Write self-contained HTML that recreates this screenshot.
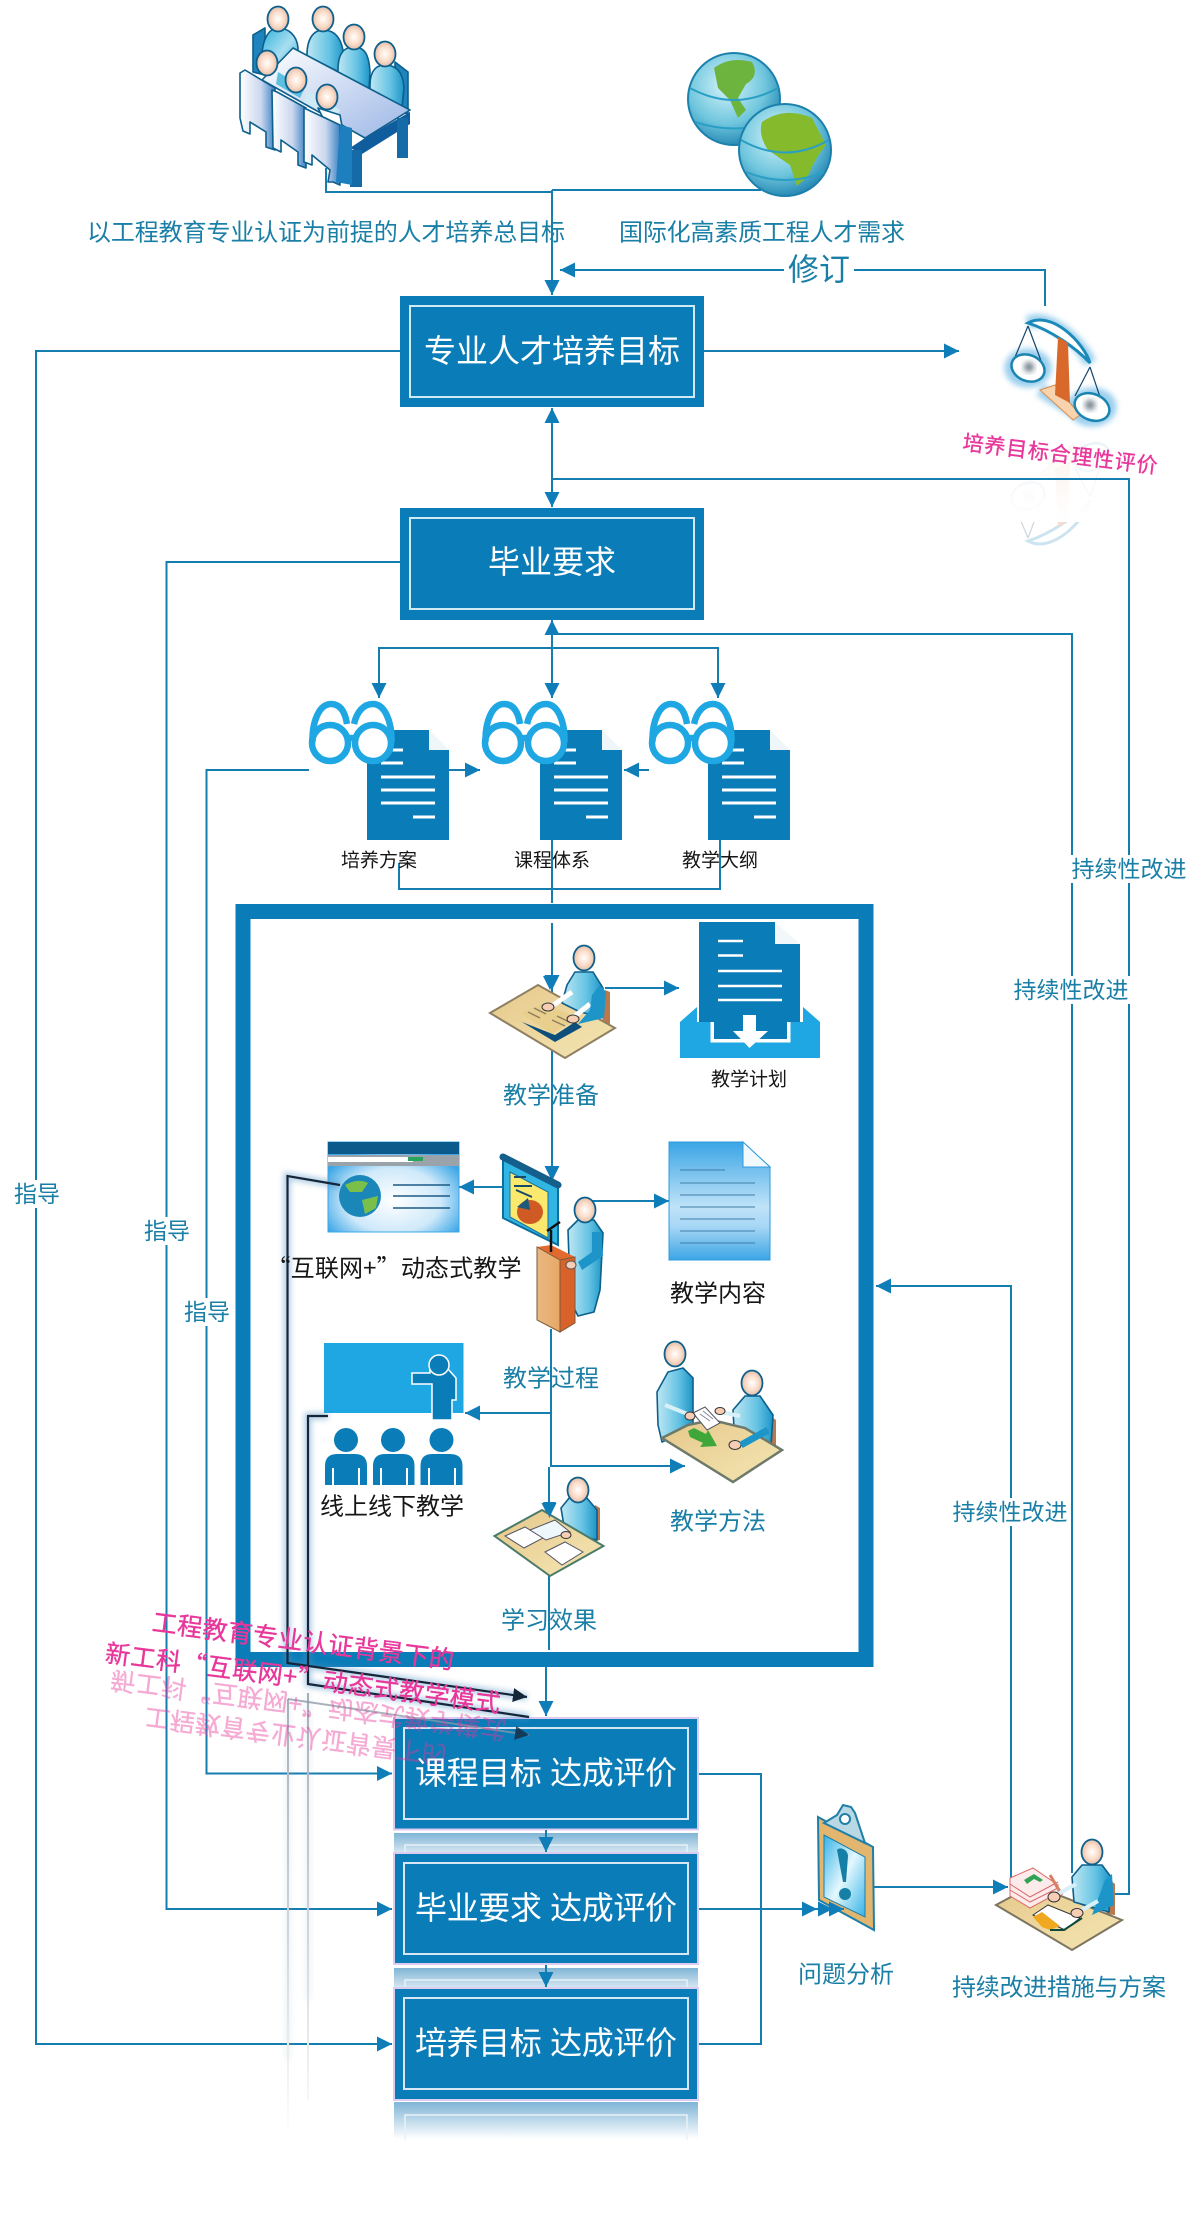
<!DOCTYPE html>
<html lang="zh"><head><meta charset="utf-8"><title>工程教育专业认证</title>
<style>
html,body{margin:0;padding:0;background:#fff}
svg{display:block}
text{font-family:"Liberation Sans","Noto Sans CJK SC",sans-serif;dominant-baseline:central;text-anchor:middle}
.q{font-family:"Noto Sans CJK SC",sans-serif}
.t{fill:#1a7fa6;font-size:24px}
.k{fill:#161616;font-size:24px}
.s{fill:#161616;font-size:19px}
.w{fill:#fff;font-size:32px}
.p{fill:#e8379b;stroke:#e8379b;stroke-width:.35px}
.l{fill:none;stroke:#147eb0;stroke-width:2}
.a{fill:none;stroke:#147eb0;stroke-width:2;marker-end:url(#ar)}
.o{stroke:#0d5f8c;stroke-width:1.6;stroke-linejoin:round}
</style></head><body>
<svg xmlns="http://www.w3.org/2000/svg" width="1202" height="2235" viewBox="0 0 1202 2235">
<defs>
<marker id="ar" markerUnits="userSpaceOnUse" markerWidth="15" markerHeight="15" viewBox="0 0 14 14" refX="14" refY="7" orient="auto"><path d="M0 0L14 7L0 14Z" fill="#0e7db8"/></marker>
<marker id="bk" markerUnits="userSpaceOnUse" markerWidth="14" markerHeight="14" viewBox="0 0 14 14" refX="14" refY="7" orient="auto"><path d="M0 0L14 7L0 14Z" fill="#15263a"/></marker>
<radialGradient id="hd" cx=".5" cy=".5" r=".55"><stop offset="0" stop-color="#fff"/><stop offset=".55" stop-color="#fbdcc8"/><stop offset="1" stop-color="#d9b7a2"/></radialGradient>
<linearGradient id="bd" x1="0" y1="0" x2="1" y2="1"><stop offset="0" stop-color="#2fb0dc"/><stop offset=".55" stop-color="#a9dff0"/><stop offset="1" stop-color="#2d9fd0"/></linearGradient>
<linearGradient id="bd2" x1="0" y1="0" x2="1" y2="0"><stop offset="0" stop-color="#bfe7f3"/><stop offset=".6" stop-color="#65c3e3"/><stop offset="1" stop-color="#1d95c8"/></linearGradient>
<linearGradient id="ch" x1="0" y1="0" x2="1" y2="0"><stop offset="0" stop-color="#fff"/><stop offset=".6" stop-color="#cbd7ee"/><stop offset="1" stop-color="#3c82c4"/></linearGradient>
<linearGradient id="tb" x1="0" y1="0" x2="1" y2="1"><stop offset="0" stop-color="#fff"/><stop offset="1" stop-color="#9bb6e6"/></linearGradient>
<linearGradient id="dk" x1="0" y1="0" x2="1" y2="1"><stop offset="0" stop-color="#e6c88a"/><stop offset="1" stop-color="#f4e6b4"/></linearGradient>
<linearGradient id="pod" x1="0" y1="0" x2="1" y2="0"><stop offset="0" stop-color="#e9b883"/><stop offset="1" stop-color="#e8a866"/></linearGradient>
<linearGradient id="docg" x1="0" y1="0" x2="0" y2="1"><stop offset="0" stop-color="#3ba5e6"/><stop offset=".55" stop-color="#bfe3f8"/><stop offset=".72" stop-color="#a6d6f5"/><stop offset="1" stop-color="#3ba5e6"/></linearGradient>
<radialGradient id="web" cx=".5" cy=".65" r=".6"><stop offset="0" stop-color="#fff"/><stop offset=".6" stop-color="#cfe9fa"/><stop offset="1" stop-color="#3aa6e6"/></radialGradient>
<radialGradient id="gl" cx=".42" cy=".35" r=".7"><stop offset="0" stop-color="#d6f4fb"/><stop offset=".6" stop-color="#6fc6dd"/><stop offset="1" stop-color="#1b7fae"/></radialGradient>
<linearGradient id="pap" x1="0" y1="0" x2="1" y2="1"><stop offset="0" stop-color="#35b2e6"/><stop offset=".5" stop-color="#e4f8fe"/><stop offset="1" stop-color="#35b2e6"/></linearGradient>
<linearGradient id="rf" x1="0" y1="0" x2="0" y2="1"><stop offset="0" stop-color="#7fb5d6"/><stop offset="1" stop-color="#d4e5f0"/></linearGradient>
<linearGradient id="rf2" x1="0" y1="0" x2="0" y2="1"><stop offset="0" stop-color="#7fb5d6"/><stop offset="1" stop-color="#fff"/></linearGradient>
<linearGradient id="fadeL" gradientUnits="userSpaceOnUse" x1="0" y1="1690" x2="0" y2="2140"><stop offset="0" stop-color="#a4aeb8"/><stop offset=".55" stop-color="#d0d6dc"/><stop offset="1" stop-color="#fff"/></linearGradient>
<linearGradient id="fadeW" x1="0" y1="0" x2="0" y2="1"><stop offset="0" stop-color="#fff" stop-opacity=".55"/><stop offset="1" stop-color="#fff"/></linearGradient>
<filter id="bl" x="-30%" y="-30%" width="160%" height="160%"><feGaussianBlur stdDeviation="3"/></filter>
<ellipse id="h" rx="10.500" ry="12.500" fill="url(#hd)" stroke="#0d5f8c" stroke-width="1.800"/>
<g id="doc">
<path d="M0 0H62V20H82V110H0Z" fill="#0a7cb8"/><path d="M62 0L82 20H62Z" fill="#eef6fa"/>
<path d="M14 20H36M14 33H36M14 47H68M14 60H68M14 73H68M46 87H68" stroke="#fff" stroke-width="3"/>
</g>
<g id="glass" fill="none" stroke="#1ea7e2" stroke-width="6.500">
<circle cx="21" cy="43" r="18" fill="#fff"/><circle cx="64" cy="43" r="18" fill="#fff"/>
<path d="M38 40Q42.500 36 47 40"/>
<path d="M3.500 42C3 22 10 4 22 4C31 4 36 11 38 24"/>
<path d="M45 24C48 11 55 4 64 4C76 4 83 22 82.500 42"/>
</g>
<g id="scale">
<path d="M1028 323C1052 310 1084 343 1090 363C1075 347 1050 330 1028 323Z" fill="#fff" stroke="#1b8ab8" stroke-width="3"/>
<path d="M1040 390L1055 385L1080 415L1073 420Z" fill="#f8d3ad" stroke="#d98c4c"/>
<path d="M1058 337L1068 343L1070 403L1055 395Z" fill="#d9692b"/>
<path d="M1028 326L1013 362M1028 326L1043 366M1090 367L1075 396M1090 367L1105 412" stroke="#17466a" stroke-width="1.200"/>
<ellipse cx="1028" cy="368" rx="17" ry="13" transform="rotate(22 1028 368)" fill="#fff" stroke="#1b85b0" stroke-width="2.500"/>
<ellipse cx="1092" cy="407" rx="18" ry="13" transform="rotate(22 1092 407)" fill="#fff" stroke="#1b85b0" stroke-width="2.500"/>
<circle cx="1029" cy="367" r="5" fill="#6a7a86" filter="url(#bl)"/><circle cx="1090" cy="405" r="5" fill="#6a7a86" filter="url(#bl)"/>
</g>
</defs>

<!-- top left meeting -->
<g>
<path d="M253 35L265 28V75L253 72Z" fill="#1f84bd" class="o"/>
<path d="M395 62L408 72V115L395 105Z" fill="#1f84bd" class="o"/>
<path d="M262 62C261 38 270 28 278 28C288 28 297 35 298 48L296 72L280 70Z" fill="url(#bd)" class="o"/>
<path d="M307 55C307 38 314 30 323 30C333 30 343 36 344 60L343 74L307 56Z" fill="url(#bd2)" class="o"/>
<path d="M338 70C338 52 345 47 354 47C365 47 369 55 370 72L369 90L338 72Z" fill="url(#bd2)" class="o"/>
<path d="M370 85C370 70 377 65 385 65C396 65 403 72 404 88L402 108L370 90Z" fill="url(#bd2)" class="o"/>
<use href="#h" x="278" y="19"/><use href="#h" x="323" y="19"/><use href="#h" x="354" y="37"/><use href="#h" x="385" y="54"/>
<path d="M293 48L410 110L365 138L262 80Z" fill="url(#tb)" class="o"/>
<path d="M350 148L365 138L410 112V124L362 154Z" fill="#0f5d9c"/>
<rect x="397" y="118" width="11" height="40" fill="#156aa8"/><rect x="350" y="150" width="12" height="37" fill="#156aa8"/>
<use href="#h" x="267" y="63"/><path d="M278 72L305 88L300 98L276 84Z" fill="#5ec0e0"/>
<use href="#h" x="296" y="80"/><path d="M308 90L340 110L335 118L303 102Z" fill="#cfeaf5"/>
<use href="#h" x="327" y="97"/><path d="M318 108L340 115L343 132L325 122Z" fill="#fff" class="o"/>
<path d="M240 73L245 70L275 88V150L266 147V132L250 122V134L243 131L240 118Z" fill="url(#ch)" class="o"/>
<path d="M272 90L277 92L306 108V168L298 165V152L281 140V152L273 148Z" fill="url(#ch)" class="o"/>
<path d="M304 108L340 125V185L333 182L328 182L330 170L312 155V165L304 162Z" fill="url(#ch)" class="o"/>
<path d="M340 125L352 128V185L336 182Z" fill="#1e7fbe"/>
</g>
<!-- globes -->
<g stroke="#1c80ac" stroke-width="2">
<circle cx="734" cy="99" r="46" fill="url(#gl)"/>
<path d="M714 68Q730 56 752 62Q760 76 746 84L738 98L746 110L738 118L730 100L718 88Z" fill="#6db43e" stroke="none"/>
<path d="M690 88Q734 112 778 88M695 122Q734 135 773 122" fill="none" stroke="#2a9fc6"/>
<circle cx="785" cy="150" r="46" fill="url(#gl)"/>
<path d="M762 122Q785 106 812 118L826 145Q815 158 808 176L797 186L790 165L768 150Q758 135 762 122Z" fill="#85ba2c" stroke="none"/>
<path d="M741 140Q785 165 829 140M746 172Q785 188 824 172" fill="none" stroke="#2a9fc6"/>
</g>
<!-- scale icon and reflection -->
<g fill="none" stroke="#6fbbe6" stroke-width="13" opacity=".7" filter="url(#bl)">
<path d="M1028 323C1050 312 1082 345 1090 363"/>
<ellipse cx="1028" cy="368" rx="17" ry="13"/><ellipse cx="1092" cy="407" rx="18" ry="13"/>
<path d="M1040 390L1080 415"/>
</g>
<use href="#scale"/>
<g transform="translate(0 864) scale(1 -1)" opacity=".22"><use href="#scale"/></g>
<rect x="1000" y="437" width="130" height="85" fill="url(#fadeW)"/>

<!-- frame -->
<rect x="243" y="911.500" width="623" height="748" fill="none" stroke="#0a7cb8" stroke-width="15"/>

<!-- docs -->
<use href="#doc" x="367" y="730"/><use href="#doc" x="540" y="730"/><use href="#doc" x="708" y="730"/>
<use href="#glass" x="309" y="700"/><use href="#glass" x="482" y="700"/><use href="#glass" x="649" y="700"/>

<!-- connectors -->
<g>
<path class="l" d="M326 168V192H552M761 190H552"/>
<path class="a" d="M552 190V295"/>
<path class="a" d="M1045 306V270H560"/>
<path class="a" d="M704 351H959"/>
<path class="l" d="M552 408V507M552 479H1129V1894H1113"/>
<path class="a" d="M552 440V408"/><path class="a" d="M552 470V507"/>
<path class="l" d="M552 634H1072V1873"/><path class="a" d="M552 660V620"/>
<path class="a" d="M552 648V698"/><path class="a" d="M379 698V648H718V698"/>
<path class="a" d="M379 660V698"/>
<path class="a" d="M400 351H36V2044H392"/>
<path class="a" d="M400 562H166.500V1909H392"/>
<path class="a" d="M309 770H206.500V1773.500H392"/>
<path class="a" d="M449 770H480"/><path class="a" d="M649 770H624"/>
<path class="l" d="M399 863V889H720V840M552 840V903"/>
<path class="a" d="M552 923V990"/><path class="a" d="M552 990V1181"/>
<path class="a" d="M605 988H679"/><path class="a" d="M503 1187H459"/>
<path class="a" d="M591 1201H669"/>
<path class="l" d="M551 1329V1467"/>
<path class="a" d="M550 1413H465"/><path class="a" d="M551 1466H685"/>
<path class="a" d="M549 1467V1518"/><path class="l" d="M549 1518V1650"/>
<path class="a" d="M546 1667V1716"/>
<path class="l" d="M698 1774H761V2044H698"/>
<path class="l" d="M698 1909H817"/>
<path class="a" d="M874 1887H1008"/>
<path class="a" d="M1011 1882V1286H876"/>
</g>

<!-- plan -->
<path d="M680 1022L697 1007V1022H803V1007L820 1022V1058H680Z" fill="#1ea7e2"/>
<path d="M712 1020V1041H789V1020" fill="#fff" stroke="#fff" stroke-width="3"/>
<path d="M699 922H775V944H800V1022H787V1039H714V1022H699Z" fill="#0a7cb8"/>
<path d="M775 922L800 944H775Z" fill="#f2f7fa"/>
<path d="M718 941H743M718 955.500H743M718 971H782M718 986H782M718 1000H782" stroke="#fff" stroke-width="2.500"/>
<path d="M743 1015H756V1031H768L749.500 1048L733 1031H743Z" fill="#fff"/>

<!-- desk teacher -->
<path d="M605 990L610 992V1026L602 1026Z" fill="#b9784d"/>
<path d="M490 1013L538 985L615 1028L565 1058Z" fill="url(#dk)" stroke="#8f7f62" stroke-width="2"/>
<path d="M512 1016L522 1022L555 1035L575 1022L582 1027L555 1042Z" fill="#0b4f7a"/>
<path d="M520 1013L545 1003L578 1018L552 1034Z" fill="#e8cf8e"/>
<path d="M528 1012L540 1018M534 1008L546 1014M552 1020L565 1026M557 1016L569 1022" stroke="#8f7f62" stroke-width="1.500"/>
<path d="M567 985L575 972H593L603 988L602 1017L580 1012L562 1003Z" fill="url(#bd2)" class="o"/>
<path d="M572 992L552 1006M590 1004L575 1016" stroke="#fff" stroke-width="5"/>
<path d="M592 995L600 985L606 992L604 1018L578 1024L590 1010Z" fill="#1d95c8"/>
<use href="#h" x="584" y="958"/>
<ellipse cx="548" cy="1007" rx="6" ry="4" fill="#f7cdb5" stroke="#333"/><ellipse cx="573" cy="1019" rx="6" ry="4" fill="#f7cdb5" stroke="#333"/>
<path d="M543 976H557L550 990Z" fill="#0e7db8"/>

<!-- web window -->
<rect x="328" y="1142" width="131" height="90" fill="url(#web)" stroke="#3aa6e6"/>
<rect x="328" y="1142" width="131" height="12" fill="#0c5a8c"/>
<rect x="328" y="1155" width="131" height="11" fill="#9aa3aa"/>
<rect x="328" y="1157" width="85" height="5" fill="#fff"/><rect x="408" y="1157" width="15" height="4" fill="#27a55c"/>
<circle cx="360" cy="1196" r="21" fill="#1b87b8"/><path d="M345 1185Q358 1178 368 1183L362 1192L350 1192ZM362 1200L378 1196L376 1208L365 1214Z" fill="#7abf4a"/>
<path d="M393 1185H450M393 1196H450M393 1208H450" stroke="#1c5a86" stroke-width="1.500"/>

<!-- podium -->
<path d="M503 1155L558 1183V1245L503 1218Z" fill="#31b5e2" stroke="#0d6f9f" stroke-width="2"/>
<path d="M510 1172L548 1192V1238L510 1217Z" fill="#fbe96e" stroke="#1b6f9a"/>
<path d="M503 1157L558 1185" stroke="#145f8c" stroke-width="7" stroke-linecap="round"/>
<ellipse cx="530" cy="1212" rx="13" ry="12" fill="#cf5a23"/><path d="M517 1207L528 1198L530 1210Z" fill="#1c5a7c"/>
<path d="M514 1177H526M514 1186H532M516 1190L532 1197" stroke="#184a66" stroke-width="2"/>
<path d="M568 1230L578 1220H594L603 1233L600 1290L594 1312L578 1316L574 1308V1275L569 1260Z" fill="url(#bd2)" class="o"/>
<path d="M592 1232L601 1232L603 1256L582 1270L578 1262L592 1252Z" fill="#1d95c8"/>
<use href="#h" x="585" y="1210"/>
<path d="M537 1247L551 1245L575 1257L560 1260Z" fill="#e26a2e"/>
<path d="M537 1247L560 1260V1332L537 1320Z" fill="url(#pod)" stroke="#7a5a3a"/>
<path d="M560 1260L575 1257V1323L560 1332Z" fill="#d9622b" stroke="#7a5a3a"/>
<path d="M551 1252V1230M547 1231L560 1222" stroke="#111" stroke-width="2.500"/>
<ellipse cx="571" cy="1265" rx="5" ry="4" fill="#f7cdb5" stroke="#555"/>

<!-- content doc -->
<path d="M669 1142H743L770 1167V1260H669Z" fill="url(#docg)" stroke="#2f9bdc"/>
<path d="M743 1142L770 1167H743Z" fill="#f2f9fd" stroke="#2f9bdc"/>
<path d="M680 1170H725M680 1183H755M680 1195H755M680 1207H755M680 1219H755M680 1231H755M680 1243H755" stroke="#3f7ea9" stroke-width="1"/>

<!-- online teaching -->
<rect x="324" y="1343" width="139.500" height="70" fill="#1ea7e2"/>
<path d="M412 1373H430V1369H448L456 1378V1400H452V1420H432V1384H412Z" fill="#0a7cb8" stroke="#fff" stroke-width="1.500"/>
<circle cx="439" cy="1365" r="10" fill="#0a7cb8" stroke="#fff" stroke-width="1.500"/>
<g fill="#0a7cb8">
<ellipse cx="346" cy="1440" rx="12" ry="12"/><ellipse cx="393" cy="1440" rx="12" ry="12"/><ellipse cx="441.500" cy="1440" rx="12" ry="12"/>
<path d="M325 1485V1466Q325 1454 337 1454H355Q367 1454 367 1466V1485H360V1468H358V1485H334V1468H332V1485Z"/>
<path d="M373 1485V1466Q373 1454 385 1454H403Q414.500 1454 414.500 1466V1485H408V1468H406V1485H382V1468H380V1485Z"/>
<path d="M420.500 1485V1466Q420.500 1454 432 1454H450Q462.500 1454 462.500 1466V1485H456V1468H454V1485H430V1468H428V1485Z"/>
</g>

<!-- pair -->
<path d="M769 1415L776 1420V1445L766 1447Z" fill="#b9784d"/>
<path d="M657 1392L668 1372L683 1368L693 1378L693 1428L662 1442L658 1425Z" fill="url(#bd2)" class="o"/>
<use href="#h" x="675" y="1354"/>
<path d="M733 1410L745 1396H760L773 1415L771 1446L735 1446Z" fill="url(#bd2)" class="o"/>
<use href="#h" x="752" y="1383"/>
<path d="M662 1438L688 1425L712 1420L745 1428L782 1450L733 1482Z" fill="url(#dk)" stroke="#6d7a6a" stroke-width="2.500"/>
<path d="M693 1413L705 1407L720 1423L707 1430Z" fill="#fff" stroke="#556"/>
<path d="M700 1414L710 1421M703 1411L713 1419" stroke="#889" stroke-width="1"/>
<path d="M688 1431L694 1428L706 1434L708 1430L717 1446L700 1447L703 1443L690 1437Z" fill="#3fa63a"/>
<path d="M665 1405L690 1415" stroke="#d8f0f8" stroke-width="4"/><path d="M720 1412L740 1416" stroke="#d8f0f8" stroke-width="4"/>
<ellipse cx="690" cy="1416" rx="5" ry="4" fill="#f7cdb5" stroke="#333"/><ellipse cx="720" cy="1411" rx="5" ry="3.500" fill="#f7cdb5" stroke="#333"/>
<ellipse cx="735" cy="1445" rx="6" ry="4.500" fill="#f7cdb5" stroke="#333"/><path d="M741 1445L768 1430" stroke="#1d95c8" stroke-width="7"/>

<!-- learning -->
<path d="M595 1505L600 1508V1540L592 1542Z" fill="#b9784d"/>
<path d="M561 1508L570 1497H586L597 1510V1540L565 1532Z" fill="url(#bd2)" class="o"/>
<use href="#h" x="578" y="1490"/>
<path d="M494.500 1536L542 1510L603.500 1546L550 1576Z" fill="url(#dk)" stroke="#4a7a6a" stroke-width="2"/>
<path d="M505 1536L525 1527L543 1538L524 1548Z" fill="#fff" stroke="#556"/>
<path d="M530 1530L555 1520L570 1532L546 1540Z" fill="#eef7fb" stroke="#556"/>
<path d="M545 1552L565 1542L583 1552L562 1565Z" fill="#fff" stroke="#556"/>
<ellipse cx="566" cy="1535" rx="5" ry="3.500" fill="#f7cdb5" stroke="#333"/>
<path d="M543 1502H556L549.500 1518Z" fill="#0e7db8"/>

<!-- clipboard -->
<path d="M818 1817L873 1847L874 1930L819 1900Z" fill="#e3b670" stroke="#1f7fa6" stroke-width="2"/>
<path d="M824 1835L865 1857V1917L824 1897Z" fill="url(#pap)" stroke="#1f7fa6"/>
<path d="M824 1823L837 1815L843 1805L851 1807L855 1813L865 1843Z" fill="#b8d8e6" stroke="#1f7fa6" stroke-width="2"/>
<circle cx="845" cy="1819" r="5" fill="#fff" stroke="#1f7fa6" stroke-width="2"/>
<path d="M837 1850C840 1846 848 1850 848 1856L846 1882H843Z" fill="#167fa6"/>
<ellipse cx="845" cy="1894" rx="6" ry="6" fill="#167fa6"/>
<path class="a" d="M800 1909H817"/><path class="a" d="M815 1909H833"/><path class="a" d="M828 1909H844"/>

<!-- final person -->
<path d="M1110 1880L1115 1884V1915L1106 1914Z" fill="#b9784d"/>
<path d="M996 1905L1033 1885L1122 1920L1072 1950Z" fill="url(#dk)" stroke="#7e7560" stroke-width="2"/>
<path d="M1072 1877L1082 1865H1102L1111 1877L1109 1912L1074 1902Z" fill="url(#bd2)" class="o"/>
<path d="M1105 1880L1112 1874L1114 1905L1092 1915Z" fill="#1d95c8"/>
<use href="#h" x="1092" y="1852"/>
<path d="M1010 1878L1033 1868L1058 1885V1893L1030 1908L1010 1896Z" fill="#fdeaea" stroke="#d96a6a"/>
<path d="M1010 1884L1030 1897L1058 1882M1010 1890L1030 1902L1058 1888" fill="none" stroke="#d96a6a"/>
<path d="M1024 1880L1034 1874L1043 1880L1040 1882L1034 1879L1027 1884Z" fill="#2fa454"/>
<path d="M1033 1915L1048 1905L1080 1918L1065 1930Z" fill="#fff" stroke="#333"/>
<path d="M1033 1917L1042 1912L1060 1926L1050 1930L1042 1927Z" fill="#f0a820"/>
<path d="M1050 1930L1064 1930L1082 1918" fill="none" stroke="#0c4a3a" stroke-width="2"/>
<path d="M1050 1875L1062 1895" stroke="#d98060" stroke-width="3"/>
<path d="M1058 1894L1076 1884M1080 1911L1098 1901" stroke="#d8f0f8" stroke-width="4"/>
<ellipse cx="1054" cy="1897" rx="6" ry="5" fill="#f7cdb5" stroke="#333"/><ellipse cx="1077" cy="1913" rx="6" ry="4.500" fill="#f7cdb5" stroke="#333"/>

<!-- reflections of eval boxes -->
<rect x="394" y="1833" width="304" height="19" fill="url(#rf)"/>
<rect x="405" y="1845" width="282" height="8" fill="none" stroke="#e8f2f7" stroke-width="1.500"/>
<rect x="394" y="1968" width="304" height="19" fill="url(#rf)"/>
<rect x="405" y="1980" width="282" height="8" fill="none" stroke="#e8f2f7" stroke-width="1.500"/>
<rect x="394" y="2102" width="304" height="37" fill="url(#rf2)"/>
<path d="M405 2140V2115H687V2140" fill="none" stroke="#e8f2f7" stroke-width="1.500"/>

<!-- main boxes -->
<rect x="400" y="296" width="304" height="111" fill="#0a7cb8"/><rect x="410" y="306" width="284" height="91" fill="none" stroke="#cfeaf5" stroke-width="2"/>
<rect x="400" y="508" width="304" height="112" fill="#0a7cb8"/><rect x="410" y="518" width="284" height="91" fill="none" stroke="#cfeaf5" stroke-width="2"/>
<g fill="#0a7cb8" stroke="#dccdf0" stroke-width="2">
<rect x="394" y="1718" width="304" height="111.500"/><rect x="394" y="1853" width="304" height="111"/><rect x="394" y="1988" width="304" height="112"/>
</g>
<g fill="none" stroke="#d6e6f4" stroke-width="2">
<rect x="404" y="1728" width="284" height="91"/><rect x="404" y="1863" width="284" height="91"/><rect x="404" y="1998" width="284" height="91"/>
</g>
<path class="a" d="M546 1830V1852"/><path class="a" d="M546 1965V1987"/>

<!-- black lines -->
<g fill="none" stroke="#4f93c4" stroke-width="7" opacity=".45" filter="url(#bl)">
<path d="M340 1185L287 1176V1663L527 1697"/><path d="M328 1416H308V1684L529 1717"/>
</g>
<g fill="none" stroke="#9fb4c8" stroke-width="5" opacity=".18" filter="url(#bl)"><path d="M288 1699V2060"/><path d="M308 1693V2000"/></g>
<g fill="none" stroke="url(#fadeL)" stroke-width="2"><path d="M288 1699V2140"/><path d="M308 1693V2100"/></g>
<g fill="none" stroke="#15263a" stroke-width="2.200">
<path d="M340 1185L287.500 1176V1663L527 1697" marker-end="url(#bk)"/>
<path d="M328 1416H308V1684L529 1717"/>
</g>
<path d="M288 1699L529 1735" fill="none" stroke="#8b97a6" stroke-width="2" marker-end="url(#bk)" opacity=".75"/>

<!-- pink text -->
<text class="p" font-size="25" transform="translate(303 1642) rotate(7.300)" textLength="304">工程教育专业认证背景下的</text>
<text class="p q" font-size="25" transform="translate(303 1677) rotate(7.300)" textLength="398">新工科“互联网+”动态式教学模式</text>
<g opacity=".42">
<text class="p q" font-size="25" transform="translate(308 1706) rotate(7.300) scale(1 -1)" textLength="398">新工科“互联网+”动态式教学模式</text>
<text class="p" font-size="25" transform="translate(296 1735) rotate(7.300) scale(1 -1)" textLength="304">工程教育专业认证背景下的</text>
</g>
<text class="p" font-size="21" transform="translate(1060 455) rotate(7)" textLength="196">培养目标合理性评价</text>

<!-- labels -->
<text class="t" x="326" y="233" textLength="478">以工程教育专业认证为前提的人才培养总目标</text>
<text class="t" x="762" y="233" textLength="286">国际化高素质工程人才需求</text>
<rect x="784" y="252" width="70" height="36" fill="#fff"/>
<text class="t" x="819" y="270" style="font-size:31px">修订</text>
<text class="w" x="552" y="351">专业人才培养目标</text>
<text class="w" x="552" y="562">毕业要求</text>
<text class="w" x="546" y="1773" textLength="262">课程目标 达成评价</text>
<text class="w" x="546" y="1908" textLength="262">毕业要求 达成评价</text>
<text class="w" x="546" y="2043" textLength="262">培养目标 达成评价</text>
<text class="s" x="379" y="861">培养方案</text><text class="s" x="552" y="861">课程体系</text><text class="s" x="720" y="861">教学大纲</text>
<text class="s" x="749" y="1080">教学计划</text>
<text class="t" x="551" y="1096">教学准备</text>
<text class="k q" x="394" y="1266" textLength="255">“互联网+”动态式教学</text>
<text class="k" x="718" y="1294">教学内容</text>
<text class="t" x="551" y="1379">教学过程</text>
<text class="k" x="392" y="1507">线上线下教学</text>
<text class="t" x="718" y="1522">教学方法</text>
<text class="t" x="549" y="1621">学习效果</text>
<text class="t" x="846" y="1975">问题分析</text>
<text class="t" x="1059" y="1988" textLength="214">持续改进措施与方案</text>
<g fill="#fff">
<rect x="12" y="1180" width="50" height="28"/><rect x="142" y="1217" width="50" height="28"/><rect x="182" y="1298" width="50" height="28"/>
<rect x="1068" y="855" width="122" height="28"/><rect x="1010" y="976" width="122" height="28"/><rect x="949" y="1498" width="122" height="28"/>
</g>
<text class="t" style="font-size:23px" x="37" y="1194">指导</text>
<text class="t" style="font-size:23px" x="167" y="1231">指导</text>
<text class="t" style="font-size:23px" x="207" y="1312">指导</text>
<text class="t" style="font-size:23px" x="1129" y="869">持续性改进</text>
<text class="t" style="font-size:23px" x="1071" y="990">持续性改进</text>
<text class="t" style="font-size:23px" x="1010" y="1512">持续性改进</text>
</svg>
</body></html>
